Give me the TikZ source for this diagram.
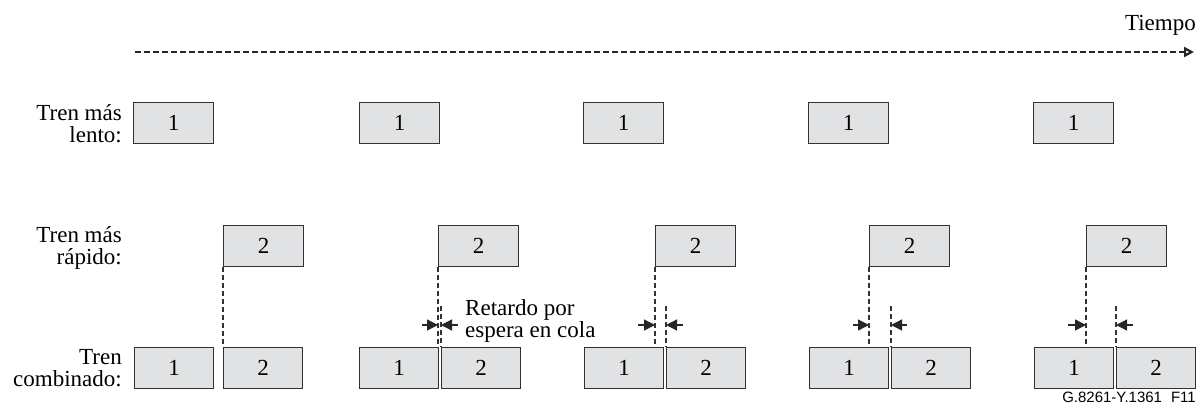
\documentclass[tikz,border=0pt]{standalone}
\usepackage{fontspec}
\setmainfont{Liberation Serif}
\newfontfamily\labsans{Liberation Sans}
\usetikzlibrary{arrows.meta}
\definecolor{boxfill}{RGB}{225,226,228}
\definecolor{boxline}{RGB}{50,50,50}
\tikzset{
  pkt/.style={draw=boxline, fill=boxfill, line width=1.3pt, minimum width=80pt, minimum height=41pt, inner sep=0pt, font=\fontsize{23}{22}\selectfont, anchor=north west},
  pktc/.style={pkt, minimum width=79pt},
  lab/.style={anchor=base east, inner sep=0pt, font=\fontsize{23}{22}\selectfont},
  note/.style={anchor=base west, inner sep=0pt, font=\fontsize{23}{22}\selectfont},
  vdash/.style={draw=boxline, line width=1.2pt, dash pattern=on 5pt off 3pt},
  qarrow/.style={draw=black!85, line width=1.3pt, -{Triangle[length=11pt,width=11pt]}},
  timeline/.style={draw=black!85, line width=2.2pt, dash pattern=on 6pt off 3pt, -{Triangle[open,length=10pt,width=10pt]}}
}
\begin{document}
\begin{tikzpicture}[x=1pt,y=-1pt]
\useasboundingbox (0,0) rectangle (1198,408);
% time axis
\coordinate (t0) at (135,52);
\coordinate (t1) at (1194,52);
\draw[timeline] (t0) -- (t1);
\node[anchor=base east, inner sep=0pt, font=\fontsize{23}{22}\selectfont] (tiempo) at (1196,30) {Tiempo};
% row labels
\node[lab] (ls1) at (122,120) {Tren más};
\node[lab] (ls2) at (122,142) {lento:};
\node[lab] (lf1) at (122,242) {Tren más};
\node[lab] (lf2) at (122,264) {rápido:};
\node[lab] (lc1) at (122,364) {Tren};
\node[lab] (lc2) at (122,386) {combinado:};
% slow train
\node[pkt] (s1) at (133,102) {1};
\node[pkt] (s2) at (359,102) {1};
\node[pkt] (s3) at (583,102) {1};
\node[pkt] (s4) at (808,102) {1};
\node[pkt] (s5) at (1033,102) {1};
% fast train
\node[pkt] (f1) at (223,225) {2};
\node[pkt] (f2) at (438,225) {2};
\node[pkt] (f3) at (655,225) {2};
\node[pkt] (f4) at (869,225) {2};
\node[pkt] (f5) at (1086,225) {2};
% combined train
\node[pktc] (c11) at (134,347) {1};
\node[pktc] (c12) at (223,347) {2};
\node[pktc] (c21) at (359,347) {1};
\node[pktc] (c22) at (441,347) {2};
\node[pktc] (c31) at (584,347) {1};
\node[pktc] (c32) at (666,347) {2};
\node[pktc] (c41) at (809,347) {1};
\node[pktc] (c42) at (891,347) {2};
\node[pktc] (c51) at (1034,347) {1};
\node[pktc] (c52) at (1116,347) {2};
% dashed drop lines
\draw[vdash] (f1.south west) -- (c12.north west);
\draw[vdash] (f2.south west) -- (f2.south west |- c21.north);
\draw[vdash] (f3.south west) -- (f3.south west |- c31.north);
\draw[vdash] (f4.south west) -- (f4.south west |- c41.north);
\draw[vdash] (f5.south west) -- (f5.south west |- c51.north);
\coordinate (q2) at (441,306);
\coordinate (q3) at (666,306);
\coordinate (q4) at (891,306);
\coordinate (q5) at (1116,306);
\draw[vdash] (q2) -- (c22.north west);
\draw[vdash] (q3) -- (c32.north west);
\draw[vdash] (q4) -- (c42.north west);
\draw[vdash] (q5) -- (c52.north west);
% queueing delay arrows
\coordinate (al2) at (422,325); \coordinate (ar2) at (458,325);
\coordinate (al3) at (638,325); \coordinate (ar3) at (683,325);
\coordinate (al4) at (853,325); \coordinate (ar4) at (907,325);
\coordinate (al5) at (1068,325); \coordinate (ar5) at (1133,325);
\draw[qarrow] (al2) -- (al2 -| f2.south west);
\draw[qarrow] (ar2) -- (ar2 -| q2);
\draw[qarrow] (al3) -- (al3 -| f3.south west);
\draw[qarrow] (ar3) -- (ar3 -| q3);
\draw[qarrow] (al4) -- (al4 -| f4.south west);
\draw[qarrow] (ar4) -- (ar4 -| q4);
\draw[qarrow] (al5) -- (al5 -| f5.south west);
\draw[qarrow] (ar5) -- (ar5 -| q5);
\node[note] (r1) at (465,315) {Retardo por};
\node[note] (r2) at (465,337) {espera en cola};
% figure id
\node[anchor=base east, inner sep=0pt, font=\labsans\fontsize{15}{15}\selectfont] (fid) at (1196,402) {G.8261-Y.1361\hspace{0.6em}F11};
\end{tikzpicture}
\end{document}
